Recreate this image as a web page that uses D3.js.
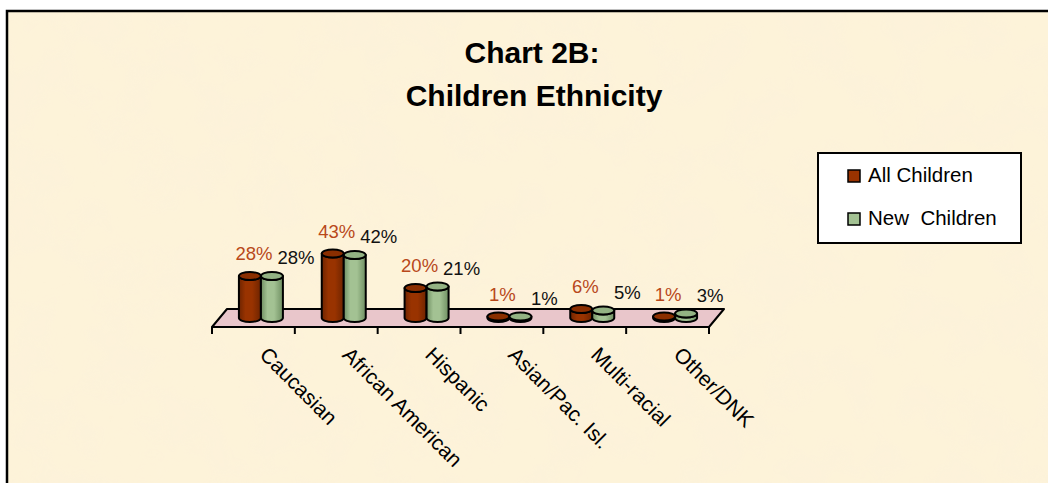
<!DOCTYPE html>
<html>
<head>
<meta charset="utf-8">
<script src="https://cdn.jsdelivr.net/npm/d3@7"></script>
<style>
  html, body { margin: 0; padding: 0; background: #fff; }
  svg { display: block; font-family: "Liberation Sans", Arial, sans-serif; }
</style>
</head>
<body>
<svg id="chart" width="1048" height="483"></svg>
<script>
// ===== Chart 2B: Children Ethnicity (3D clustered cylinders) =====

var categories = ["Caucasian", "African American", "Hispanic", "Asian/Pac. Isl.", "Multi-racial", "Other/DNK"];
var seriesNames = ["All Children", "New  Children"];
var allChildren = [28, 43, 20, 1, 6, 1];
var newChildren = [28, 42, 21, 1, 5, 3];

var W = 1048, H = 483;
var COLOURS = {
  bg: "#fdf3d9",
  floor: "#e9c6cb",
  red: "#993300", redDark: "#6e2400", redTop: "#8a2e00",
  green: "#a3c293", greenDark: "#6f8f62", greenTop: "#93b283",
  redLabel: "#b8481a"
};

var svg = d3.select("#chart");
var defs = svg.append("defs");

// paper texture
var paper = defs.append("filter").attr("id", "paper").attr("x", 0).attr("y", 0).attr("width", 1).attr("height", 1);
paper.append("feTurbulence").attr("type", "fractalNoise").attr("baseFrequency", "0.02").attr("numOctaves", 3).attr("seed", 7);
paper.append("feColorMatrix").attr("type", "matrix")
  .attr("values", "0 0 0 0 0.96  0 0 0 0 0.86  0 0 0 0 0.72  0.6 0 0 0 -0.2");
paper.append("feComposite").attr("in2", "SourceGraphic").attr("operator", "in");

function cylGrad(id, light, dark) {
  var g = defs.append("linearGradient").attr("id", id).attr("x1", "0%").attr("x2", "100%");
  g.append("stop").attr("offset", "0%").attr("stop-color", dark);
  g.append("stop").attr("offset", "30%").attr("stop-color", light);
  g.append("stop").attr("offset", "60%").attr("stop-color", light);
  g.append("stop").attr("offset", "100%").attr("stop-color", dark);
}
cylGrad("gRed", COLOURS.red, COLOURS.redDark);
cylGrad("gGreen", COLOURS.green, COLOURS.greenDark);

// background + frame
svg.append("rect").attr("x", 7).attr("y", 11).attr("width", W).attr("height", H).attr("fill", COLOURS.bg);
svg.append("rect").attr("x", 7).attr("y", 11).attr("width", W).attr("height", H).attr("fill", "#fff").attr("filter", "url(#paper)");
svg.append("path").attr("d", "M7," + H + "V11H" + W).attr("fill", "none").attr("stroke", "#000").attr("stroke-width", 2.5);

// title
var title = svg.append("text").attr("x", 533).attr("text-anchor", "middle")
  .attr("font-size", 30).attr("font-weight", "bold").attr("fill", "#000");
title.append("tspan").attr("x", 532).attr("y", 63).text("Chart 2B:");
title.append("tspan").attr("x", 534).attr("y", 106).text("Children Ethnicity");

// geometry of the 3D floor
var floorFront = 327, depthX = 15, depthY = 18;
var x = d3.scaleBand().domain(categories).range([212, 709]);
var y = d3.scaleLinear().domain([0, 50]).range([0, 75]);
var baseY = floorFront - depthY / 2;     // mid-depth plane
var shiftX = depthX / 2;
var barW = 22, ry = 4;

var x0 = x.range()[0], x1 = x.range()[1];
svg.append("path")
  .attr("d", "M" + x0 + "," + floorFront + "L" + x1 + "," + floorFront +
             "L" + (x1 + depthX) + "," + (floorFront - depthY) +
             "L" + (x0 + depthX) + "," + (floorFront - depthY) + "Z")
  .attr("fill", COLOURS.floor).attr("stroke", "#000").attr("stroke-width", 2).attr("stroke-linejoin", "round");

// ticks on the front edge
var tickPos = categories.map(function(c) { return x(c); }).concat([x1]);
svg.selectAll(".tick").data(tickPos).join("line")
  .attr("x1", function(d) { return d; }).attr("x2", function(d) { return d; })
  .attr("y1", floorFront).attr("y2", floorFront + 7)
  .attr("stroke", "#000").attr("stroke-width", 2);

// category labels
svg.selectAll(".cat").data(categories).join("text")
  .attr("transform", function(d) { return "translate(" + (x(d) + x.bandwidth() / 2 + 5) + "," + 356 + ") rotate(45)"; })
  .attr("font-size", 21).attr("fill", "#000").text(function(d) { return d; });

// cylinders
function cylinderPath(left, w, top, bottom) {
  var r = w / 2;
  return "M" + left + "," + top + "L" + left + "," + bottom +
    "A" + r + "," + ry + " 0 0 0 " + (left + w) + "," + bottom +
    "L" + (left + w) + "," + top +
    "A" + r + "," + ry + " 0 0 1 " + left + "," + top + "Z";
}

var series = [
  { name: seriesNames[0], values: allChildren, fill: "url(#gRed)", top: COLOURS.redTop, label: COLOURS.redLabel, off: 0, ldx: 4, ldy: -12 },
  { name: seriesNames[1], values: newChildren, fill: "url(#gGreen)", top: COLOURS.greenTop, label: "#111", off: 1, ldx: 24, ldy: -8 }
];

series.forEach(function(s) {
  var g = svg.append("g");
  categories.forEach(function(c, i) {
    var cx = x(c) + x.bandwidth() / 2 + shiftX;
    var left = cx - barW + s.off * barW;
    var top = baseY - y(s.values[i]);
    g.append("path").attr("d", cylinderPath(left, barW, top, baseY))
      .attr("fill", s.fill).attr("stroke", "#000").attr("stroke-width", 2).attr("stroke-linejoin", "round");
    g.append("ellipse").attr("cx", left + barW / 2).attr("cy", top).attr("rx", barW / 2).attr("ry", ry)
      .attr("fill", s.top).attr("stroke", "#000").attr("stroke-width", 2);
  });
});

// data labels
series.forEach(function(s) {
  categories.forEach(function(c, i) {
    var cx = x(c) + x.bandwidth() / 2 + shiftX;
    var barCx = cx - barW / 2 + s.off * barW;
    var top = baseY - y(s.values[i]) - ry;
    svg.append("text").attr("x", barCx + s.ldx).attr("y", top + s.ldy)
      .attr("text-anchor", "middle").attr("font-size", 18.5).attr("fill", s.label)
      .text(s.values[i] + "%");
  });
});

// legend
var leg = svg.append("g").attr("transform", "translate(818,153)");
leg.append("rect").attr("width", 203).attr("height", 90).attr("fill", "#fff").attr("stroke", "#000").attr("stroke-width", 2);
var legColours = [COLOURS.red, COLOURS.green];
seriesNames.forEach(function(n, i) {
  var row = leg.append("g").attr("transform", "translate(0," + (i * 43) + ")");
  row.append("rect").attr("x", 30).attr("y", 17).attr("width", 12).attr("height", 12)
    .attr("fill", legColours[i]).attr("stroke", "#000").attr("stroke-width", 1.5);
  row.append("text").attr("x", 50).attr("y", 29).attr("font-size", 20.5).attr("fill", "#000")
    .attr("xml:space", "preserve").style("white-space", "pre").text(n);
});
</script>
</body>
</html>
